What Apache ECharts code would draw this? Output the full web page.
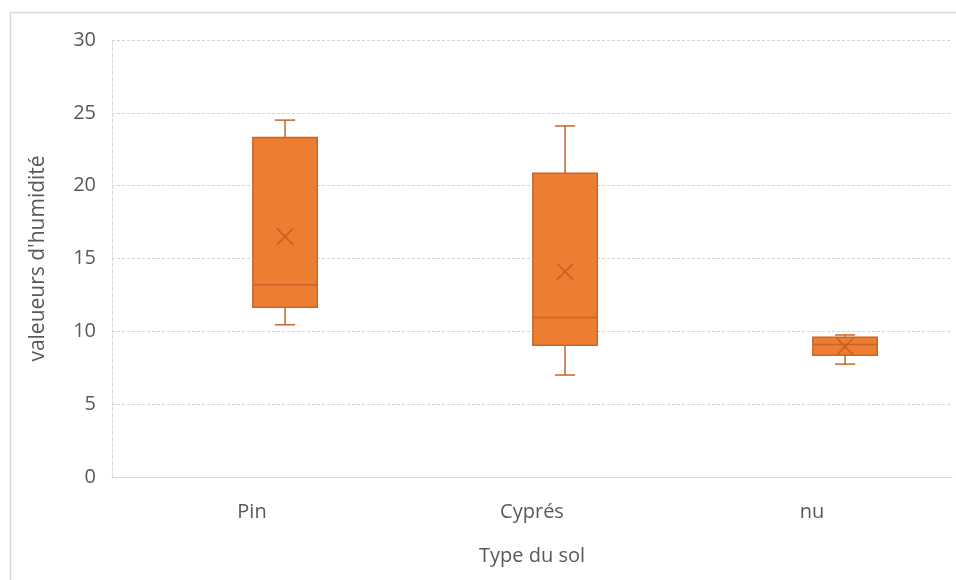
<!DOCTYPE html>
<html>
<head>
<meta charset="utf-8">
<script src="https://cdn.jsdelivr.net/npm/echarts@6/dist/echarts.min.js"></script>
<style>
  html, body { margin: 0; padding: 0; background: #fff; }
  #chart { width: 956px; height: 580px; }
</style>
</head>
<body>
<div id="chart"></div>
<script>
// Soil moisture box plots per soil type
const categories = ['Pin', 'Cyprés', 'nu'];
const minValues = [10.45, 7.0, 7.75];
const q1Values = [11.65, 9.05, 8.35];
const medianValues = [13.2, 10.95, 9.1];
const q3Values = [23.3, 20.85, 9.6];
const maxValues = [24.5, 24.1, 9.75];
const meanValues = [16.5, 14.1, 8.95];
const yTicks = [0, 5, 10, 15, 20, 25, 30];

const boxData = categories.map((c, i) => [
  i, minValues[i], q1Values[i], medianValues[i], q3Values[i], maxValues[i], meanValues[i]
]);

const FILL = '#ED7D31';
const EDGE = '#C9652A';
const MEAN = '#C05E1E';
const TEXT = '#595959';
const FONT = '"Open Sans", "Noto Sans", sans-serif';

function renderBox(params, api) {
  const idx = api.value(0);
  const band = api.size([1, 0])[0];
  const cx = api.coord([idx, 0])[0] + band * 0.118;
  const half = band * 0.115;
  const capHalf = band * 0.036;
  const yMin = api.coord([idx, api.value(1)])[1];
  const yQ1 = api.coord([idx, api.value(2)])[1];
  const yMed = api.coord([idx, api.value(3)])[1];
  const yQ3 = api.coord([idx, api.value(4)])[1];
  const yMax = api.coord([idx, api.value(5)])[1];
  const yMean = api.coord([idx, api.value(6)])[1];
  const lineStyle = { stroke: EDGE, lineWidth: 1.5, fill: null };
  const m = 8;
  return {
    type: 'group',
    children: [
      { type: 'line', shape: { x1: cx, y1: yQ3, x2: cx, y2: yMax }, style: lineStyle },
      { type: 'line', shape: { x1: cx - capHalf, y1: yMax, x2: cx + capHalf, y2: yMax }, style: lineStyle },
      { type: 'line', shape: { x1: cx, y1: yQ1, x2: cx, y2: yMin }, style: lineStyle },
      { type: 'line', shape: { x1: cx - capHalf, y1: yMin, x2: cx + capHalf, y2: yMin }, style: lineStyle },
      { type: 'rect', shape: { x: cx - half, y: yQ3, width: half * 2, height: yQ1 - yQ3 },
        style: { fill: FILL, stroke: EDGE, lineWidth: 1.5 } },
      { type: 'line', shape: { x1: cx - half, y1: yMed, x2: cx + half, y2: yMed }, style: lineStyle },
      { type: 'line', shape: { x1: cx - m, y1: yMean - m, x2: cx + m, y2: yMean + m },
        style: { stroke: MEAN, lineWidth: 1.6, opacity: 0.85 } },
      { type: 'line', shape: { x1: cx - m, y1: yMean + m, x2: cx + m, y2: yMean - m },
        style: { stroke: MEAN, lineWidth: 1.6, opacity: 0.85 } }
    ]
  };
}

const chart = echarts.init(document.getElementById('chart'), null, { renderer: 'canvas' });
chart.setOption({
  backgroundColor: '#ffffff',
  animation: false,
  graphic: [{
    type: 'rect',
    shape: { x: 10.5, y: 12.5, width: 1200, height: 1200 },
    style: { fill: null, stroke: '#D9D9D9', lineWidth: 1.5 },
    silent: true,
    z: -1
  }],
  grid: { left: 112, right: 4, top: 40, bottom: 103 },
  xAxis: {
    type: 'category',
    data: categories,
    boundaryGap: true,
    axisTick: { show: false },
    axisLine: { show: true, lineStyle: { color: '#D9D9D9', width: 1 } },
    axisLabel: { color: TEXT, fontSize: 20, fontFamily: FONT, margin: 25 },
    name: 'Type du sol',
    nameLocation: 'middle',
    nameGap: 69,
    nameTextStyle: { color: TEXT, fontSize: 20, fontFamily: FONT }
  },
  yAxis: {
    type: 'value',
    min: yTicks[0],
    max: yTicks[yTicks.length - 1],
    interval: yTicks[1] - yTicks[0],
    axisTick: { show: false },
    axisLine: { show: true, lineStyle: { color: '#D9D9D9', type: 'dashed' } },
    splitLine: { show: true, lineStyle: { color: '#D4D4D4', type: [3, 2], width: 1 } },
    axisLabel: { color: TEXT, fontSize: 20, fontFamily: FONT, margin: 16 },
    name: "valeueurs d'humidité",
    nameLocation: 'middle',
    nameGap: 63,
    nameTextStyle: { color: TEXT, fontSize: 21, fontFamily: FONT }
  },
  series: [{
    type: 'custom',
    data: boxData,
    encode: { x: 0, y: [1, 2, 3, 4, 5, 6] },
    renderItem: renderBox,
    silent: true
  }]
});
</script>
</body>
</html>
